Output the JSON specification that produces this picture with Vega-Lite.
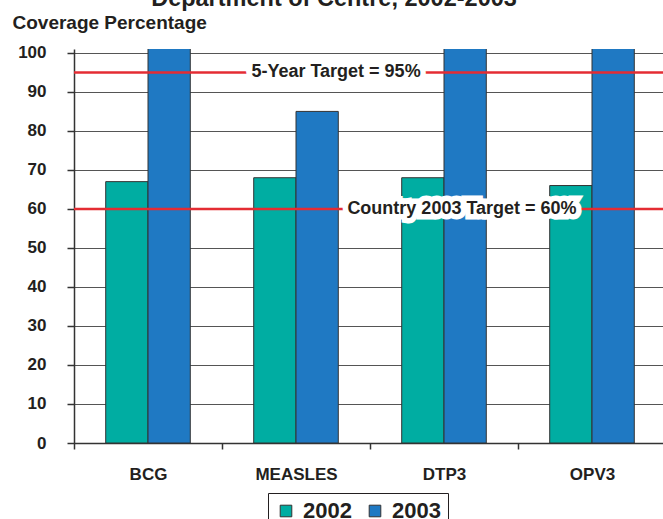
{
  "$schema": "https://vega.github.io/schema/vega-lite/v6.json",
  "autosize": {"type": "none"},
  "padding": {"left": 74, "top": 49, "right": 0, "bottom": 76},
  "width": 592,
  "height": 394,
  "background": "white",
  "config": {
    "view": {"stroke": null},
    "font": "Liberation Sans, Arial, sans-serif"
  },
  "title": {
    "text": "Department of Centre, 2002-2003",
    "fontSize": 23.5,
    "fontWeight": "bold",
    "color": "#231F20",
    "anchor": "middle",
    "frame": "group",
    "dx": -36,
    "baseline": "alphabetic",
    "offset": -16
  },
  "datasets": {
    "coverage": [
      {"vaccine": "BCG", "year": "2002", "value": 67},
      {"vaccine": "BCG", "year": "2003", "value": 108},
      {"vaccine": "MEASLES", "year": "2002", "value": 68},
      {"vaccine": "MEASLES", "year": "2003", "value": 85},
      {"vaccine": "DTP3", "year": "2002", "value": 68},
      {"vaccine": "DTP3", "year": "2003", "value": 106},
      {"vaccine": "OPV3", "year": "2002", "value": 66},
      {"vaccine": "OPV3", "year": "2003", "value": 107}
    ],
    "targets": [
      {"value": 95, "label": "5-Year Target = 95%", "vaccine": "MEASLES"},
      {"value": 60, "label": "Country 2003 Target = 60%", "vaccine": "DTP3"}
    ]
  },
  "encoding": {
    "y": {
      "field": "value",
      "type": "quantitative",
      "scale": {"domain": [0, 101], "nice": false},
      "axis": {
        "values": [0, 10, 20, 30, 40, 50, 60, 70, 80, 90, 100],
        "tickCount": 11,
        "labelOverlap": false,
        "title": "Coverage Percentage",
        "titleAngle": 0,
        "titleX": -62,
        "titleY": -21,
        "titleAlign": "left",
        "titleBaseline": "alphabetic",
        "titleFontSize": 19,
        "titleFontWeight": "bold",
        "titleColor": "#231F20",
        "labelFontSize": 17,
        "labelFontWeight": "bold",
        "labelColor": "#231F20",
        "labelPadding": 21,
        "tickSize": 7,
        "tickColor": "#333333",
        "tickWidth": 1.5,
        "domainColor": "#333333",
        "domainWidth": 1.5,
        "grid": true,
        "gridColor": "#555555",
        "gridWidth": 1
      }
    }
  },
  "layer": [
    {
      "data": {"name": "coverage"},
      "mark": {"type": "bar", "clip": true, "stroke": "#333333", "strokeWidth": 1},
      "encoding": {
        "x": {
          "field": "vaccine",
          "type": "nominal",
          "sort": ["BCG", "MEASLES", "DTP3", "OPV3"],
          "scale": {"domain": ["BCG", "MEASLES", "DTP3", "OPV3"], "paddingInner": 0, "paddingOuter": 0},
          "axis": {
            "title": null,
            "labelAngle": 0,
            "labelFontSize": 17,
            "labelFontWeight": "bold",
            "labelColor": "#231F20",
            "labelPadding": 17,
            "tickBand": "extent",
            "tickSize": 6,
            "tickColor": "#333333",
            "tickWidth": 1.5,
            "domainColor": "#333333",
            "domainWidth": 1.5,
            "grid": false
          }
        },
        "xOffset": {
          "field": "year",
          "type": "nominal",
          "scale": {"paddingInner": 0, "paddingOuter": 0.75}
        },
        "color": {
          "field": "year",
          "type": "nominal",
          "scale": {"domain": ["2002", "2003"], "range": ["#00ADA2", "#1F79C3"]},
          "legend": {
            "title": null,
            "orient": "none",
            "legendX": 194,
            "legendY": 444,
            "direction": "horizontal",
            "symbolType": "square",
            "symbolSize": 135,
            "symbolStrokeColor": "#333333",
            "symbolStrokeWidth": 1,
            "labelFontSize": 22,
            "labelFontWeight": "bold",
            "labelColor": "#231F20",
            "labelOffset": 6,
            "columnPadding": 12,
            "strokeColor": "#231F20",
            "padding": 7,
            "fillColor": "white"
          }
        }
      }
    },
    {
      "data": {"name": "targets"},
      "mark": {"type": "rule", "color": "#E42C33", "strokeWidth": 2.5},
      "encoding": {}
    },
    {
      "data": {"name": "targets"},
      "transform": [{"filter": "datum.value == 95"}],
      "mark": {"type": "text", "fontSize": 18, "fontWeight": "bold", "fill": "white", "stroke": "white", "strokeWidth": 11, "strokeJoin": "miter", "baseline": "middle", "dx": 40},
      "encoding": {
        "x": {"field": "vaccine", "type": "nominal"},
        "text": {"field": "label"}
      }
    },
    {
      "data": {"name": "targets"},
      "transform": [{"filter": "datum.value == 95"}],
      "mark": {"type": "text", "fontSize": 18, "fontWeight": "bold", "fill": "#231F20", "baseline": "middle", "dx": 40},
      "encoding": {
        "x": {"field": "vaccine", "type": "nominal"},
        "text": {"field": "label"}
      }
    },
    {
      "data": {"name": "targets"},
      "transform": [{"filter": "datum.value == 60"}],
      "mark": {"type": "text", "fontSize": 18, "fontWeight": "bold", "fill": "white", "stroke": "white", "strokeWidth": 11, "strokeJoin": "miter", "baseline": "middle", "dx": 18},
      "encoding": {
        "x": {"field": "vaccine", "type": "nominal"},
        "text": {"field": "label"}
      }
    },
    {
      "data": {"name": "targets"},
      "transform": [{"filter": "datum.value == 60"}],
      "mark": {"type": "text", "fontSize": 18, "fontWeight": "bold", "fill": "#231F20", "baseline": "middle", "dx": 18},
      "encoding": {
        "x": {"field": "vaccine", "type": "nominal"},
        "text": {"field": "label"}
      }
    }
  ]
}
